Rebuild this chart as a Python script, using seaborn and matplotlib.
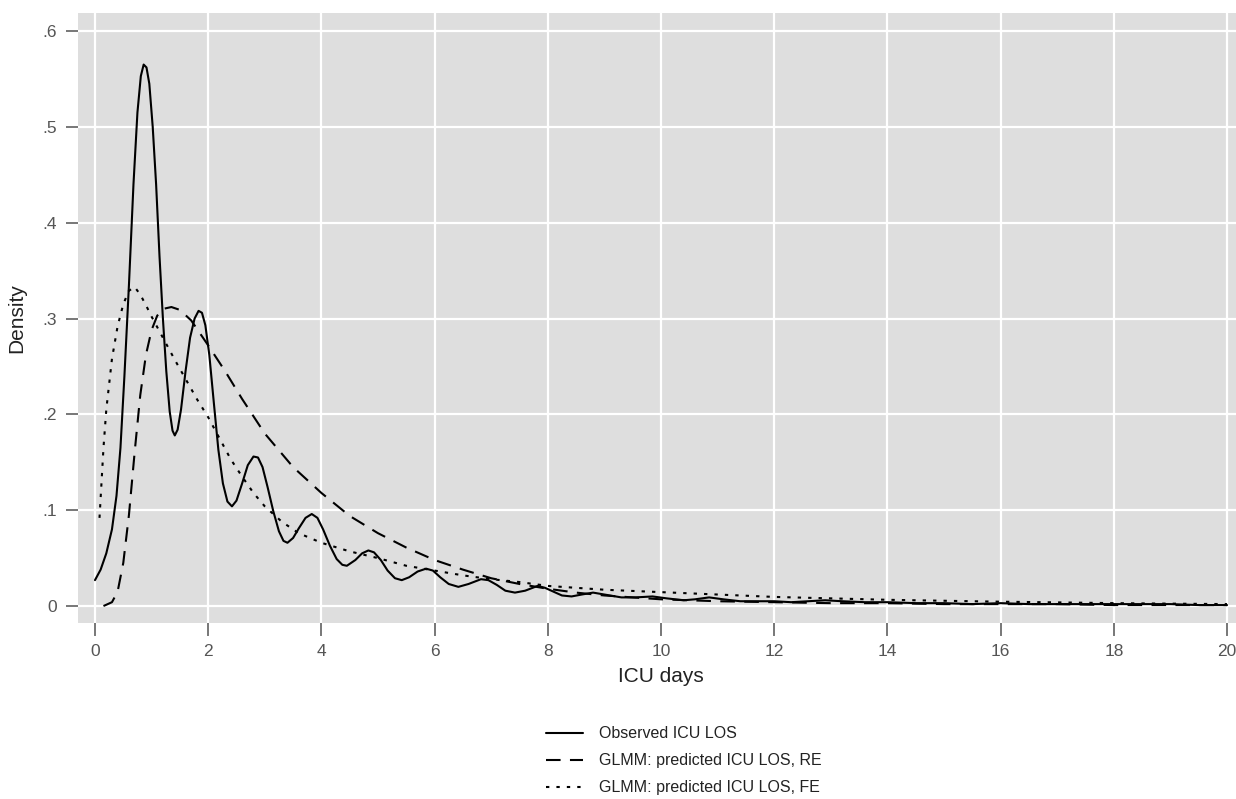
import numpy as np
import pandas as pd
import matplotlib
matplotlib.use("Agg")
import matplotlib.pyplot as plt
import matplotlib.transforms as mtransforms
import seaborn as sns

# Observed ICU length of stay (kernel density)
obs_days = [0.0, 0.1, 0.2, 0.3, 0.38, 0.45, 0.52, 0.6, 0.68, 0.75, 0.81, 0.86, 0.91, 0.96,
            1.02, 1.08, 1.14, 1.2, 1.26, 1.32, 1.37, 1.41, 1.46, 1.52, 1.6, 1.68, 1.76,
            1.83, 1.89, 1.95, 2.02, 2.1, 2.18, 2.26, 2.34, 2.42, 2.5, 2.6, 2.7, 2.8, 2.88,
            2.96, 3.05, 3.15, 3.25, 3.33, 3.4, 3.5, 3.6, 3.72, 3.83, 3.93, 4.03, 4.15,
            4.27, 4.37, 4.45, 4.6, 4.72, 4.83, 4.93, 5.05, 5.17, 5.3, 5.42, 5.55, 5.7,
            5.85, 5.97, 6.1, 6.25, 6.42, 6.6, 6.82, 6.95, 7.1, 7.25, 7.42, 7.6, 7.82, 7.95,
            8.1, 8.25, 8.42, 8.6, 8.8, 9.0, 9.3, 9.55, 9.85, 10.1, 10.4, 10.6, 10.85, 11.1,
            11.4, 11.7, 12.0, 12.3, 12.6, 12.9, 13.2, 13.6, 14.0, 14.5, 15.0, 15.5, 16.0,
            16.5, 17.0, 17.5, 18.0, 18.5, 19.0, 19.5, 20.0]
obs_density = [0.027, 0.038, 0.055, 0.080, 0.115, 0.165, 0.240, 0.335, 0.440, 0.515, 0.553,
               0.565, 0.562, 0.545, 0.500, 0.440, 0.365, 0.300, 0.245, 0.203, 0.183, 0.178,
               0.184, 0.205, 0.245, 0.280, 0.300, 0.308, 0.306, 0.293, 0.262, 0.212, 0.163,
               0.128, 0.109, 0.104, 0.110, 0.128, 0.147, 0.156, 0.155, 0.145, 0.124, 0.099,
               0.078, 0.068, 0.066, 0.071, 0.081, 0.092, 0.096, 0.092, 0.080, 0.063, 0.049,
               0.043, 0.042, 0.048, 0.055, 0.058, 0.056, 0.048, 0.037, 0.029, 0.027, 0.030,
               0.036, 0.039, 0.037, 0.030, 0.023, 0.020, 0.023, 0.028, 0.027, 0.022, 0.016,
               0.014, 0.016, 0.021, 0.019, 0.015, 0.011, 0.010, 0.012, 0.014, 0.012, 0.009,
               0.009, 0.010, 0.008, 0.006, 0.007, 0.009, 0.007, 0.005, 0.005, 0.005, 0.004,
               0.005, 0.006, 0.005, 0.004, 0.004, 0.003, 0.003, 0.002, 0.003, 0.002, 0.002,
               0.002, 0.002, 0.002, 0.002, 0.001, 0.001]

# GLMM predictions, random effects
re_days = [0.15, 0.3, 0.4, 0.5, 0.6, 0.7, 0.8, 0.9, 1.0, 1.1, 1.2, 1.35, 1.5, 1.7, 2.0, 2.3,
           2.6, 3.0, 3.5, 4.0, 4.5, 5.0, 5.5, 6.0, 6.5, 7.0, 7.5, 8.0, 8.5, 9.0, 9.5, 10.0,
           11.0, 12.0, 13.0, 14.0, 15.0, 16.0, 17.0, 18.0, 19.0, 20.0]
re_density = [0.0, 0.004, 0.015, 0.045, 0.095, 0.160, 0.220, 0.262, 0.288, 0.303, 0.310,
              0.312, 0.309, 0.298, 0.272, 0.245, 0.216, 0.180, 0.145, 0.118, 0.094, 0.076,
              0.061, 0.048, 0.038, 0.029, 0.023, 0.018, 0.014, 0.011, 0.009, 0.007, 0.005,
              0.004, 0.003, 0.003, 0.002, 0.002, 0.002, 0.001, 0.001, 0.001]

# GLMM predictions, fixed effects
fe_days = [0.08, 0.15, 0.2, 0.3, 0.4, 0.5, 0.6, 0.7, 0.8, 0.9, 1.0, 1.2, 1.4, 1.6, 1.8, 2.0,
           2.2, 2.4, 2.6, 2.8, 3.0, 3.3, 3.6, 4.0, 4.5, 5.0, 5.5, 6.0, 6.5, 7.0, 7.5, 8.0,
           8.5, 9.0, 10.0, 11.0, 12.0, 13.0, 14.0, 15.0, 16.0, 17.0, 18.0, 19.0, 20.0]
fe_density = [0.092, 0.165, 0.205, 0.258, 0.292, 0.315, 0.329, 0.333, 0.325, 0.314, 0.302,
              0.280, 0.258, 0.237, 0.216, 0.197, 0.175, 0.153, 0.135, 0.118, 0.104, 0.088,
              0.076, 0.066, 0.057, 0.050, 0.042, 0.037, 0.032, 0.028, 0.025, 0.021, 0.019,
              0.017, 0.0145, 0.012, 0.0095, 0.008, 0.0065, 0.0055, 0.0045, 0.0038, 0.003,
              0.0025, 0.002]

series_names = ["Observed ICU LOS", "GLMM: predicted ICU LOS, RE", "GLMM: predicted ICU LOS, FE"]
x_ticks = [0, 2, 4, 6, 8, 10, 12, 14, 16, 18, 20]
y_ticks = [0, 0.1, 0.2, 0.3, 0.4, 0.5, 0.6]
y_tick_labels = ["0", ".1", ".2", ".3", ".4", ".5", ".6"]

df = pd.concat([
    pd.DataFrame({"days": obs_days, "density": obs_density, "series": series_names[0]}),
    pd.DataFrame({"days": re_days, "density": re_density, "series": series_names[1]}),
    pd.DataFrame({"days": fe_days, "density": fe_density, "series": series_names[2]}),
], ignore_index=True)

sns.set_theme(style="darkgrid")
plt.rcParams["font.family"] = ["Liberation Sans", "DejaVu Sans"]

W, H = 1236, 799
fig = plt.figure(figsize=(W / 100, H / 100), dpi=100)
ax_left, ax_right, ax_top, ax_bottom = 78, 1244, 13.3, 622.7
ax_w_px, ax_h_px = ax_right - ax_left, ax_bottom - ax_top
ax = fig.add_axes([ax_left / W, 1 - ax_bottom / H, ax_w_px / W, ax_h_px / H])
ax.set_facecolor("#dedede")

dash_styles = {series_names[0]: "", series_names[1]: (7, 4.5), series_names[2]: (1.6, 3.4)}
sns.lineplot(data=df, x="days", y="density", hue="series", style="series",
             palette=["black"] * 3, dashes=dash_styles, estimator=None, sort=True,
             linewidth=1.5, ax=ax, legend=True)

handles, labels = ax.get_legend_handles_labels()
ax.get_legend().remove()

ax.set_xlim(-0.3, 20.3)
ax.set_ylim(-0.0174, 0.6185)
ax.set_xticks(x_ticks)
ax.set_yticks(y_ticks)
ax.set_yticklabels(y_tick_labels)
ax.grid(True, color="white", linewidth=1.6)
for s in ax.spines.values():
    s.set_visible(False)
ax.tick_params(axis="both", which="major", direction="out", length=9, width=1.4,
               color="#7a7a7a", labelcolor="#555555", labelsize=12.5, pad=6,
               bottom=True, left=True)
ax.set_xlabel("ICU days", fontsize=15, color="#222222", labelpad=6)
ax.set_ylabel("Density", fontsize=15, color="#222222", labelpad=12)

# outward tick marks, drawn as short segments just outside the panel
tick_px = 12
x_blend = mtransforms.blended_transform_factory(ax.transData, ax.transAxes)
y_blend = mtransforms.blended_transform_factory(ax.transAxes, ax.transData)
for xv in x_ticks:
    ax.plot([xv, xv], [0, -tick_px / ax_h_px], transform=x_blend, clip_on=False,
            color="#7a7a7a", linewidth=1.3, solid_capstyle="butt", zorder=5)
for yv in y_ticks:
    ax.plot([0, -tick_px / ax_w_px], [yv, yv], transform=y_blend, clip_on=False,
            color="#7a7a7a", linewidth=1.3, solid_capstyle="butt", zorder=5)

leg = fig.legend(handles, labels, loc="upper left", bbox_to_anchor=(532 / W, 1 - 712 / H),
                 frameon=False, fontsize=11.5, handlelength=2.3, handletextpad=1.0,
                 labelspacing=0.75, labelcolor="#222222")
for line in leg.get_lines():
    line.set_linewidth(1.5)

fig.savefig("out.png", dpi=100)
